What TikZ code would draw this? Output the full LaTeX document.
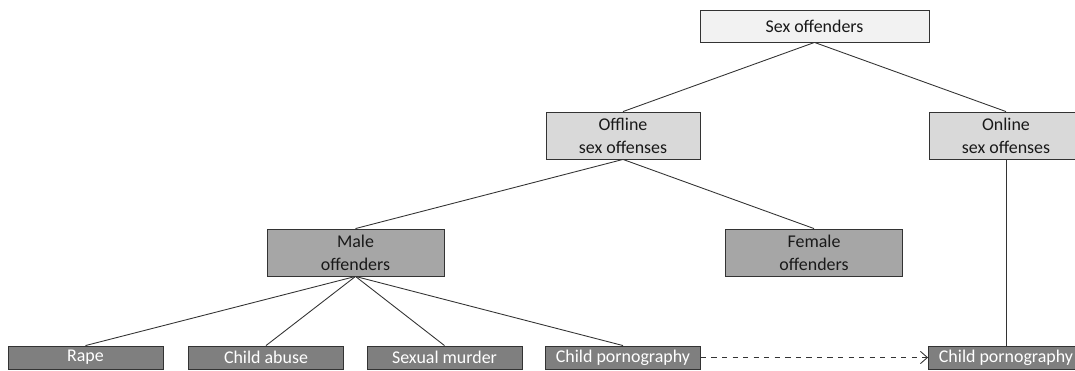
\documentclass[tikz,border=0pt]{standalone}
\usepackage{fontspec}
\setmainfont{Carlito}
\usepackage{tikz}
\usetikzlibrary{arrows.meta}

\definecolor{boxtop}{HTML}{F2F2F2}
\definecolor{boxmid}{HTML}{D9D9D9}
\definecolor{boxlow}{HTML}{A6A6A6}
\definecolor{boxleaf}{HTML}{7F7F7F}

\begin{document}
\begin{tikzpicture}[x=0.02cm,y=-0.02cm,
    every node/.style={draw=black!80,line width=0.5pt,inner sep=0pt,align=center,
      font=\fontsize{10.2}{13}\selectfont,text=black!90},
    toplevel/.style={fill=boxtop,minimum width=4.58cm,minimum height=0.64cm},
    midlevel/.style={fill=boxmid,minimum width=3.08cm,minimum height=0.94cm},
    lowlevel/.style={fill=boxlow,minimum width=3.54cm,minimum height=0.94cm},
    leaflevel/.style={fill=boxleaf,minimum width=3.1cm,minimum height=0.46cm,text=white},
    link/.style={draw=black!80,line width=0.5pt}]
    \useasboundingbox (0,0) rectangle (1075,371);

    \node [toplevel] (sex) at (814.5,26) {Sex offenders};

    \node [midlevel] (offline) at (623,135.5) {Offline\\sex offenses};
    \node [midlevel] (online) at (1006,135.5) {Online\\sex offenses};

    \node [lowlevel] (male) at (355.5,252.5) {Male\\offenders};
    \node [lowlevel] (female) at (814,252.5) {Female\\offenders};

    \node [leaflevel] (rape) at (85.5,357.5) {Rape};
    \node [leaflevel] (abuse) at (266,357.5) {Child abuse};
    \node [leaflevel] (murder) at (444.5,357.5) {Sexual murder};
    \node [leaflevel] (pornoff) at (623,357.5) {Child pornography};
    \node [leaflevel] (pornon) at (1006,357.5) {Child pornography};

    \draw [link] (sex.south) -- (offline.north);
    \draw [link] (sex.south) -- (online.north);
    \draw [link] (offline.south) -- (male.north);
    \draw [link] (offline.south) -- (female.north);
    \foreach \leaf in {rape,abuse,murder,pornoff}
    {
      \draw [link] (male.south) -- (\leaf.north);
    }
    \draw [link] (online.south) -- (pornon.north);

    \draw [link,dashed,-{Straight Barb[length=4pt,width=7pt]}] (pornoff.east) -- (pornon.west);
  \end{tikzpicture}
\end{document}
